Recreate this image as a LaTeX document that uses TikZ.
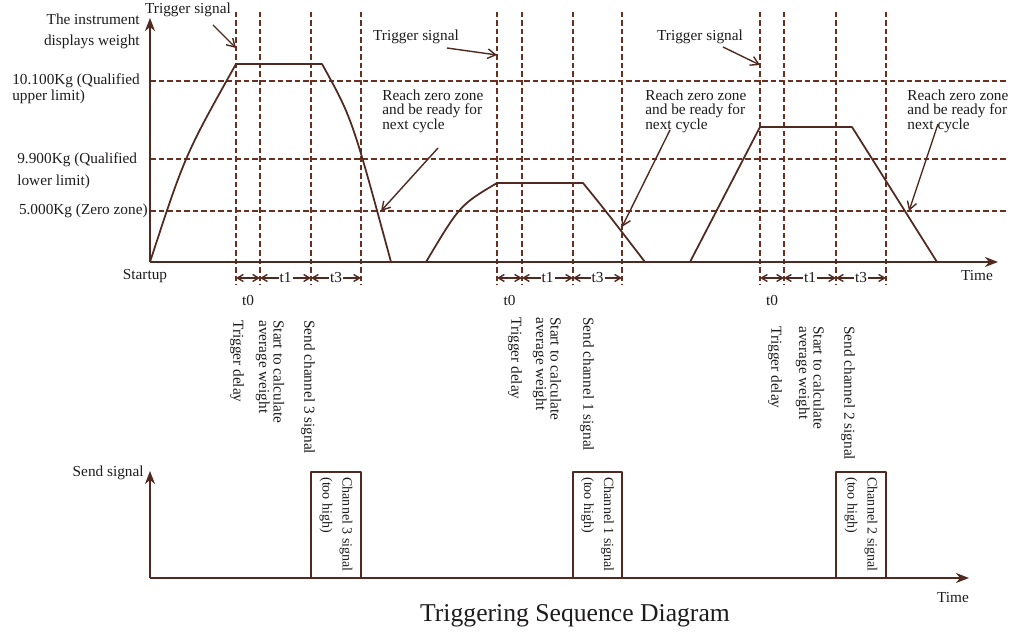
\documentclass[tikz,border=0pt]{standalone}
\usepackage{fontspec}
\setmainfont{Liberation Serif}
\usetikzlibrary{arrows.meta}

\definecolor{linebrown}{RGB}{80,42,32}
\definecolor{dashbrown}{RGB}{105,48,34}
\definecolor{txtgray}{RGB}{30,27,27}

\tikzset{
  axis/.style={draw=linebrown, line width=0.35mm, -{Stealth[length=2.6mm,width=2mm,inset=0.8mm]}},
  curve/.style={draw=linebrown, line width=0.35mm, line join=round},
  grid line/.style={draw=dashbrown, line width=0.3mm, dash pattern=on 1.1mm off 0.6mm},
  lbl/.style={inner sep=0pt, text=txtgray, font=\fontsize{8.7}{8.3}\selectfont},
  vlbl/.style={lbl, rotate=-90, anchor=west, align=left},
  gap/.style={lbl, fill=white, inner xsep=0.6pt},
  pointer/.style={draw=linebrown, line width=0.28mm, -{Straight Barb[length=1.6mm,width=1.9mm]}},
  span/.style={draw=linebrown, line width=0.28mm,
    {Straight Barb[length=1.2mm,width=1.4mm]}-{Straight Barb[length=1.2mm,width=1.4mm]}},
}

\begin{document}
\begin{tikzpicture}[x=0.2mm,y=-0.2mm]
\useasboundingbox (0,0) rectangle (1014,632);

% weight levels
\foreach \y in {81,159,211}
  \draw[grid line] (150,\y) -- (1008,\y);

% three weighing cycles: markers, spans and the texts below them
\foreach \a/\b/\c/\d/\ch/\tx/\ax/\sx/\top [count=\i] in
  {236/260/311/361/3/237/270/308/320,
   497/522/573/622/1/515/547/587/317,
   760/784/836/886/2/775/810/848/326}{
  \foreach \x in {\a,\b,\c,\d}
    \draw[grid line] (\x,12) -- (\x,285);
  \draw[span] (\a,278) -- (\b,278);
  \draw[span] (\b,278) -- node[gap] (tone\i) {t1} (\c,278);
  \draw[span] (\c,278) -- node[gap] (tthree\i) {t3} (\d,278);
  \node[lbl] (tzero\i) at ({(\a+\b)/2},300) {t0};
  \node[vlbl] (delay\i) at (\tx,\top) {Trigger delay};
  \node[vlbl] (avg\i) at (\ax,\top) {Start to calculate\\average weight};
  \node[vlbl] (send\i) at (\sx,\top) {Send channel \ch\ signal};
  % output pulse
  \draw[curve] (\c,578) -- (\c,472) -- (\d,472) -- (\d,578);
  \node[vlbl, font=\fontsize{8}{8.3}\selectfont] (chan\i) at ({(\c+\d)/2},477)
    {Channel \ch\ signal\\[3pt](too high)};
}

% weight curves
\draw[curve] (150,262) .. controls (185,155) .. (236,64) -- (322,64)
  .. controls (352,118) .. (391,262);
\draw[curve] (426,262) .. controls (460,205) .. (497,183) -- (583,183)
  .. controls (605,210) .. (645,262);
\draw[curve] (690,262) -- (760,127) -- (852,127) -- (937,262);

% axes
\coordinate (origin) at (150,262);
\coordinate (ytip) at (150,18);
\coordinate (xtip) at (998,262);
\draw[axis] (origin) -- (ytip);
\draw[axis] (origin) -- (xtip);

\coordinate (sorigin) at (150,578);
\coordinate (sytip) at (150,471);
\coordinate (sxtip) at (969,578);
\draw[axis] (sorigin) -- (sytip);
\draw[axis] (sorigin) -- (sxtip);

% axis texts
\node[lbl, align=right, anchor=east] (display) at (140,31) {The instrument\\[3.8pt]displays weight};
\node[lbl, align=left, anchor=west] (upper) at (12,89) {10.100Kg (Qualified\\[0.9pt]upper limit)};
\node[lbl, align=left, anchor=west] (lower) at (17,171) {9.900Kg (Qualified\\[4pt]lower limit)};
\node[lbl, anchor=east] (zero) at (148,211) {5.000Kg (Zero zone)};
\node[lbl] (startup) at (145,276) {Startup};
\node[lbl] (time) at (977,276) {Time};
\node[lbl, anchor=east] (sendsig) at (144,473) {Send signal};
\node[lbl] (stime) at (953,598) {Time};

% trigger pointers
\node[lbl] (trig1) at (188,10) {Trigger signal};
\node[lbl] (trig2) at (416,37) {Trigger signal};
\node[lbl] (trig3) at (700,37) {Trigger signal};
\coordinate (trig1s) at (213,25);  \coordinate (trig1e) at (236,48);
\coordinate (trig2s) at (447,48);  \coordinate (trig2e) at (497,55);
\coordinate (trig3s) at (723,47);  \coordinate (trig3e) at (760,65);
\draw[pointer] (trig1s) -- (trig1e);
\draw[pointer] (trig2s) -- (trig2e);
\draw[pointer] (trig3s) -- (trig3e);

% zero zone pointers
\node[lbl, align=left, anchor=west] (ready1) at (382,111) {Reach zero zone\\and be ready for\\next cycle};
\node[lbl, align=left, anchor=west] (ready2) at (645,111) {Reach zero zone\\and be ready for\\next cycle};
\node[lbl, align=left, anchor=west] (ready3) at (907,111) {Reach zero zone\\and be ready for\\next cycle};
\coordinate (ready1s) at (438,148);  \coordinate (ready1e) at (381,211);
\coordinate (ready2s) at (670,130);  \coordinate (ready2e) at (622,227);
\coordinate (ready3s) at (938,124);  \coordinate (ready3e) at (909,211);
\draw[pointer] (ready1s) -- (ready1e);
\draw[pointer] (ready2s) -- (ready2e);
\draw[pointer] (ready3s) -- (ready3e);

\node[inner sep=0pt, text=txtgray, font=\fontsize{14.6}{16}\selectfont, anchor=base] (title) at (575,622) {Triggering Sequence Diagram};
\end{tikzpicture}
\end{document}
